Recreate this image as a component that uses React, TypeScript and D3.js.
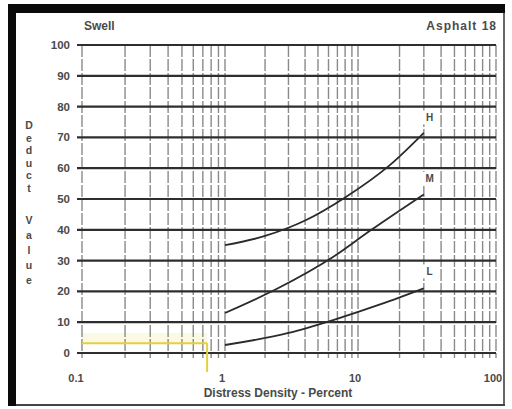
import React from "react";
import * as d3 from "d3";

const xTickValues = [0.1, 1, 10, 100];
const xTickLabels = ["0.1", "1", "10", "100"];
const yTickValues = [0, 10, 20, 30, 40, 50, 60, 70, 80, 90, 100];

const seriesNames = ["H", "M", "L"];
const densityH = [1, 2, 4, 8, 17, 30];
const valueH = [35, 38, 43, 50.5, 61, 71.5];
const densityM = [1, 2.5, 6.4, 12.5, 30];
const valueM = [13, 21, 31, 40, 51.5];
const densityL = [1, 3, 6.5, 15, 30];
const valueL = [2.6, 6.5, 10.7, 16, 21];
const labelDensity = [33, 33, 33];
const labelValue = [76.5, 56.5, 26.5];

const markDensity = 0.75;
const markValue = 3.2;

const W = 512;
const H = 409;

export default function App() {
  const x = d3.scaleLog().domain([0.1, 1, 10, 100]).range([82, 225, 358, 496]);
  const y = d3.scaleLinear().domain([0, 100]).range([353, 45]);
  const grid = x.ticks();

  const line = d3
    .line<[number, number]>()
    .x((d) => x(d[0]))
    .y((d) => y(d[1]))
    .curve(d3.curveMonotoneX);

  const curves = [
    densityH.map((d, i) => [d, valueH[i]] as [number, number]),
    densityM.map((d, i) => [d, valueM[i]] as [number, number]),
    densityL.map((d, i) => [d, valueL[i]] as [number, number]),
  ];

  const font = "'Liberation Sans', Arial, sans-serif";
  const textCol = "#4a4a4a";

  return (
    <svg
      width={W}
      height={H}
      style={{ position: "absolute", left: 0, top: 0, background: "#fff" }}
      fontFamily={font}
    >
      <rect x={0} y={0} width={W} height={H} fill="#fff" />
      {/* frame */}
      <line x1={504} y1={4} x2={504} y2={406} stroke="#666" strokeWidth={2} />
      <line x1={8} y1={405} x2={505} y2={405} stroke="#444" strokeWidth={2} />
      <rect x={8} y={4} width={497} height={9} fill="#0a0a0a" />
      <rect x={8} y={4} width={8} height={402} fill="#0a0a0a" />

      {/* yellow highlight */}
      <rect
        x={x(0.1)}
        y={y(6.5)}
        width={x(markDensity) - x(0.1)}
        height={y(markValue) - y(6.5)}
        fill="#faf6d8"
        opacity={0.7}
      />

      {/* vertical grid */}
      {grid.map((g, i) => (
        <line
          key={"v" + i}
          x1={x(g)}
          x2={x(g)}
          y1={y(100)}
          y2={y(0) + 5}
          stroke="#8a8a8a"
          strokeWidth={1.4}
          strokeDasharray="12 2"
        />
      ))}
      {/* horizontal grid */}
      {yTickValues.map((v) => (
        <line
          key={"h" + v}
          x1={77}
          x2={x(100)}
          y1={y(v)}
          y2={y(v)}
          stroke="#2e2e2e"
          strokeWidth={2.2}
        />
      ))}

      {/* yellow lines */}
      <line
        x1={x(0.1)}
        x2={x(markDensity)}
        y1={y(markValue)}
        y2={y(markValue)}
        stroke="#e6cf3a"
        strokeWidth={2}
      />
      <line
        x1={x(markDensity)}
        x2={x(markDensity)}
        y1={y(markValue)}
        y2={372}
        stroke="#e6cf3a"
        strokeWidth={2}
      />

      {/* curves */}
      {curves.map((c, i) => (
        <path key={"c" + i} d={line(c) || ""} fill="none" stroke="#2a2a2a" strokeWidth={1.8} />
      ))}

      {/* curve labels */}
      {seriesNames.map((n, i) => (
        <g key={"l" + i}>
          <rect
            x={x(labelDensity[i]) - 7}
            y={y(labelValue[i]) - 7}
            width={15}
            height={14}
            fill="#fff"
          />
          <text
            x={x(labelDensity[i])}
            y={y(labelValue[i])}
            textAnchor="middle"
            dominantBaseline="central"
            fontSize={10}
            fontWeight="bold"
            fill={textCol}
          >
            {n}
          </text>
        </g>
      ))}

      {/* y tick labels */}
      {yTickValues.map((v) => (
        <text
          key={"yt" + v}
          x={70}
          y={y(v)}
          textAnchor="end"
          dominantBaseline="central"
          fontSize={11.5}
          fontWeight="bold"
          fill={textCol}
        >
          {v}
        </text>
      ))}

      {/* x tick labels */}
      {xTickValues.map((v, i) => (
        <text
          key={"xt" + i}
          x={x(v) + (i === 0 ? -6 : i === 3 ? -3 : -3)}
          y={378}
          textAnchor="middle"
          dominantBaseline="central"
          fontSize={11}
          fontWeight="bold"
          fill={textCol}
        >
          {xTickLabels[i]}
        </text>
      ))}

      {/* titles */}
      <text x={84} y={26} fontSize={12} fontWeight="bold" fill={textCol} dominantBaseline="central">
        Swell
      </text>
      <text
        x={497}
        y={26}
        fontSize={12}
        fontWeight="bold"
        fill={textCol}
        textAnchor="end"
        dominantBaseline="central"
        letterSpacing={1}
      >
        Asphalt 18
      </text>
      <text
        x={278}
        y={393}
        fontSize={12}
        fontWeight="bold"
        fill={textCol}
        textAnchor="middle"
        dominantBaseline="central"
      >
        Distress Density - Percent
      </text>
      {"Deduct".split("").map((ch, i) => (
        <text
          key={"d" + i}
          x={29}
          y={125 + i * 12.6}
          fontSize={10.5}
          fontWeight="bold"
          fill={textCol}
          textAnchor="middle"
          dominantBaseline="central"
        >
          {ch}
        </text>
      ))}
      {"Value".split("").map((ch, i) => (
        <text
          key={"vv" + i}
          x={29}
          y={220 + i * 15}
          fontSize={10.5}
          fontWeight="bold"
          fill={textCol}
          textAnchor="middle"
          dominantBaseline="central"
        >
          {ch}
        </text>
      ))}
    </svg>
  );
}
